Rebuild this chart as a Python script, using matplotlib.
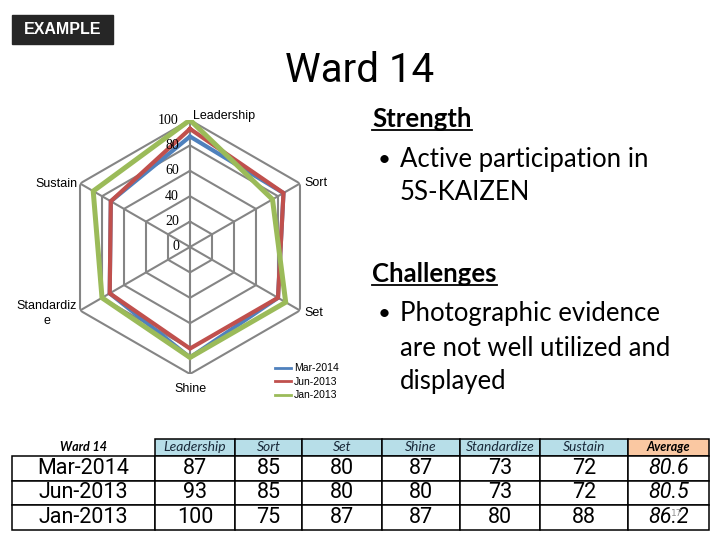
import numpy as np
import matplotlib
matplotlib.use('Agg')
import matplotlib.pyplot as plt
from matplotlib.lines import Line2D
from matplotlib.patches import Rectangle

categories = ['Leadership', 'Sort', 'Set', 'Shine', 'Standardize', 'Sustain']
axis_labels = ['Leadership', 'Sort', 'Set', 'Shine', 'Standardiz\ne', 'Sustain']
series_names = ['Mar-2014', 'Jun-2013', 'Jan-2013']
mar_2014 = [87, 85, 80, 87, 73, 72]
jun_2013 = [93, 85, 80, 80, 73, 72]
jan_2013 = [100, 75, 87, 87, 80, 88]
averages = ['80.6', '80.5', '86.2']
rings = [0, 20, 40, 60, 80, 100]

colors = ['#4F81BD', '#C0504D', '#9BBB59']
widths = [3.0, 3.0, 3.6]
grid_col = '#858585'
narrow = ['Roboto', 'DejaVu Sans']
plain = ['Lato', 'DejaVu Sans']
chart_font = ['Liberation Sans', 'DejaVu Sans']

fig = plt.figure(figsize=(7.2, 5.4), dpi=100)

# slide bits
fig.patches.append(Rectangle((12/720, 1-44/540), 101/720, 29/540,
                             transform=fig.transFigure, color='#262626'))
fig.text(62.5/720, 1-29.5/540, 'EXAMPLE', color='white', fontsize=11.5,
         fontweight='bold', ha='center', va='center', family=chart_font)
fig.text(360/720, 1-71/540, 'Ward 14', fontsize=29, ha='center', va='center', family=narrow)

# radar
ax = fig.add_axes([63/720, 166/540, 254/720, 254/540], projection='polar')
ax.set_theta_offset(np.pi/2)
ax.set_theta_direction(-1)
ax.axis('off')
theta = np.linspace(0, 2*np.pi, len(categories), endpoint=False)
closed = np.append(theta, theta[0])

for r in rings[1:]:
    ax.plot(closed, [r]*len(closed), color=grid_col, lw=1.5, zorder=1)
for t in theta:
    ax.plot([t, t], [0, 100], color=grid_col, lw=1.5, zorder=1)

for name, vals, c, w in zip(series_names, [mar_2014, jun_2013, jan_2013], colors, widths):
    ax.plot(closed, vals + vals[:1], color=c, lw=w, label=name, zorder=3,
            solid_joinstyle='miter')
ax.set_ylim(0, 100)

for r in rings:
    ax.annotate(str(r), xy=(0, r), xytext=(-8, 0), textcoords='offset points',
                ha='right', va='center', fontsize=10, family=['Liberation Serif', 'DejaVu Serif'])

label_pos = [((2, 3), 'left'), ((3, 0), 'left'), ((3, -2), 'left'),
             ((0, -11), 'center'), ((-2, -2), 'right'), ((-2, 0), 'right')]
for t, lab, (off, ha) in zip(theta, axis_labels, label_pos):
    ax.annotate(lab, xy=(t, 100), xytext=off, textcoords='offset points', ha=ha,
                va='center', multialignment='center', fontsize=9,
                family=chart_font, linespacing=1.3)

leg_handles = [Line2D([], [], color=c, lw=2) for c in colors]
fig.legend(leg_handles, series_names, loc='upper left', bbox_to_anchor=(270/720, 1-358/540),
           frameon=False, handlelength=1.5, handletextpad=0.3,
           labelspacing=0.35, borderpad=0, prop={'family': chart_font, 'size': 7.5})

# right-hand notes
txt_x = 372/720
fs = 18.5
heads = []
heads.append(fig.text(txt_x, 1-119/540, 'Strength', fontsize=fs, fontweight='bold',
                      va='center', family=plain))
fig.text(txt_x + 6/720, 1-160/540, '\u2022', fontsize=16, va='center', family=plain)
fig.text(400/720, 1-160/540, 'Active participation in', fontsize=fs, va='center', family=plain)
fig.text(400/720, 1-193/540, '5S-KAIZEN', fontsize=fs, va='center', family=plain)
heads.append(fig.text(txt_x, 1-274/540, 'Challenges', fontsize=fs, fontweight='bold',
                      va='center', family=plain))
fig.text(txt_x + 6/720, 1-314/540, '\u2022', fontsize=16, va='center', family=plain)
for i, line in enumerate(['Photographic evidence', 'are not well utilized and', 'displayed']):
    fig.text(400/720, 1-(314 + 34*i)/540, line, fontsize=fs, va='center', family=plain)

# table
tax = fig.add_axes([12/720, 10/540, 697/720, 91/540])
tax.axis('off')
col_px = [143, 80, 67, 80, 78, 80, 88, 81]
col_w = [p/sum(col_px) for p in col_px]
col_labels = ['Ward 14'] + categories + ['Average']
rows = []
for name, vals, avg in zip(series_names, [mar_2014, jun_2013, jan_2013], averages):
    rows.append([name] + [str(v) for v in vals] + [avg])
tbl = tax.table(cellText=rows, colLabels=col_labels, colWidths=col_w,
                bbox=[0, 0, 1, 1], cellLoc='center')
tbl.auto_set_font_size(False)
ncol = len(col_labels)
for (r, c), cell in tbl.get_celld().items():
    cell.set_linewidth(1.1)
    cell.set_edgecolor('black')
    t = cell.get_text()
    if r == 0:
        cell.set_height(17/91)
        t.set_fontstyle('italic')
        t.set_fontsize(10)
        t.set_family(plain)
        t.set_color('#1A2A3A')
        if c == 0:
            cell.visible_edges = ''
            cell.set_facecolor('white')
            t.set_fontweight('bold')
            t.set_fontsize(9)
            t.set_color('black')
        elif c == ncol - 1:
            cell.set_facecolor('#FAC8A2')
            t.set_fontweight('bold')
            t.set_fontsize(9)
            t.set_color('black')
        else:
            cell.set_facecolor('#B7DEE8')
    else:
        cell.set_height(24.67/91)
        t.set_fontsize(15.5)
        t.set_family(narrow)
        if c == ncol - 1:
            t.set_fontstyle('italic')

fig.text(677/720, 1-514/540, '17', fontsize=6.5, color='#909090', ha='center', va='center')

# underline the headings
fig.canvas.draw()
rend = fig.canvas.get_renderer()
for h in heads:
    bb = h.get_window_extent(rend).transformed(fig.transFigure.inverted())
    fig.add_artist(Line2D([bb.x0, bb.x1], [bb.y0 + 1/540, bb.y0 + 1/540],
                          transform=fig.transFigure, color='black', lw=1.3))

fig.savefig('out.png', dpi=100)
